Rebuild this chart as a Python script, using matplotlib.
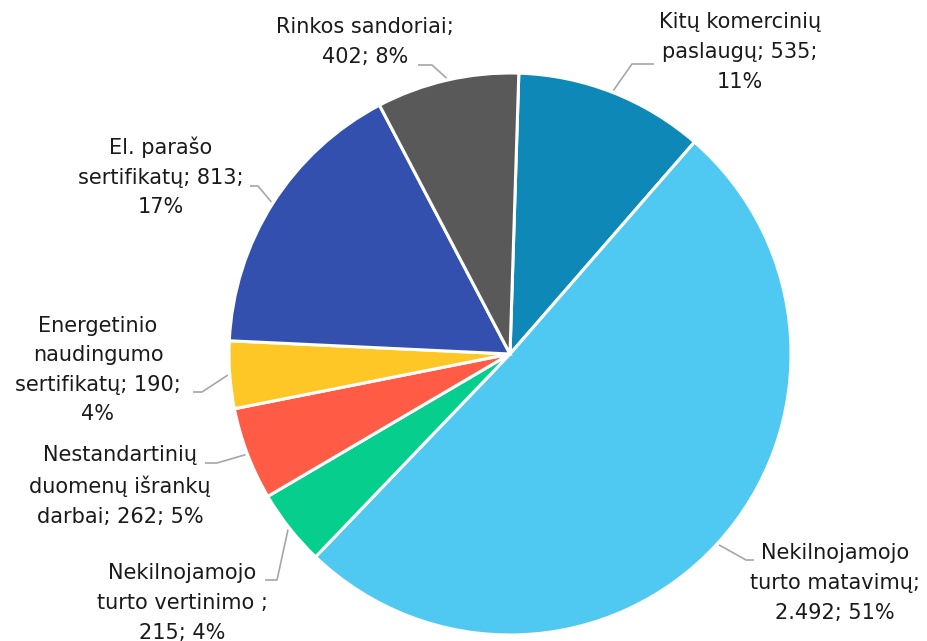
import numpy as np
import matplotlib
matplotlib.use("Agg")
import matplotlib.pyplot as plt

names = ["Kitų komercinių\npaslaugų", "Nekilnojamojo\nturto matavimų", "Nekilnojamojo\nturto vertinimo ",
         "Nestandartinių\nduomenų išrankų\ndarbai", "Energetinio\nnaudingumo\nsertifikatų",
         "El. parašo\nsertifikatų", "Rinkos sandoriai"]
values = [535, 2492, 215, 262, 190, 813, 402]
colors = ["#0E89B7", "#4FC9F2", "#06CF8E", "#FF5B45", "#FFC726", "#3350AF", "#595959"]
templates = ["{n}; {v};\n{p}", "{n};\n{v}; {p}", "{n};\n{v}; {p}", "{n}; {v}; {p}",
             "{n}; {v};\n{p}", "{n}; {v};\n{p}", "{n};\n{v}; {p}"]

W, H = 927, 641
fig = plt.figure(figsize=(W / 100, H / 100), dpi=100)
ax = fig.add_axes([0, 0, 1, 1])

cx, cy, R = 510, 354, 281   # pixel coords from top-left


def P(x, y):
    return x, H - y


total = sum(values)
wedges, _ = ax.pie(values, colors=colors, startangle=88.2, counterclock=False, center=P(cx, cy), radius=R,
                   wedgeprops=dict(edgecolor="white", linewidth=2.2), frame=True)
ax.set_xlim(0, W)
ax.set_ylim(0, H)
ax.set_aspect("equal")
ax.axis("off")

# text centre positions, elbow and end points of leader lines (pixels from top-left)
text_pos = [(740, 52), (835, 583), (182, 603), (120, 486), (98, 370), (161, 177), (365, 42)]
elbow = [(632, 64), (746, 560), (277, 580), (217, 463), (202, 392), (258, 186), (432, 65)]
end = [(654, 64), (754, 560), (265, 580), (205, 463), (193, 392), (250, 186), (418, 65)]

for i, w in enumerate(wedges):
    mid = np.deg2rad((w.theta1 + w.theta2) / 2)
    sx, sy = w.center[0] + (R + 2) * np.cos(mid), w.center[1] + (R + 2) * np.sin(mid)
    pct = round(values[i] / total * 100)
    vtxt = f"{values[i]:,}".replace(",", ".")
    label = templates[i].format(n=names[i], v=vtxt, p=f"{pct}%")
    ex, ey = P(*elbow[i])
    tx, ty = P(*end[i])
    ax.plot([sx, ex, tx], [sy, ey, ty], color="#A6A6A6", lw=1.2,
            solid_capstyle="butt", zorder=0)
    ax.text(*P(*text_pos[i]), label, ha="center", va="center", fontsize=15,
            family="DejaVu Sans", color="#1a1a1a", linespacing=1.6)

fig.savefig("out.png", dpi=100)
